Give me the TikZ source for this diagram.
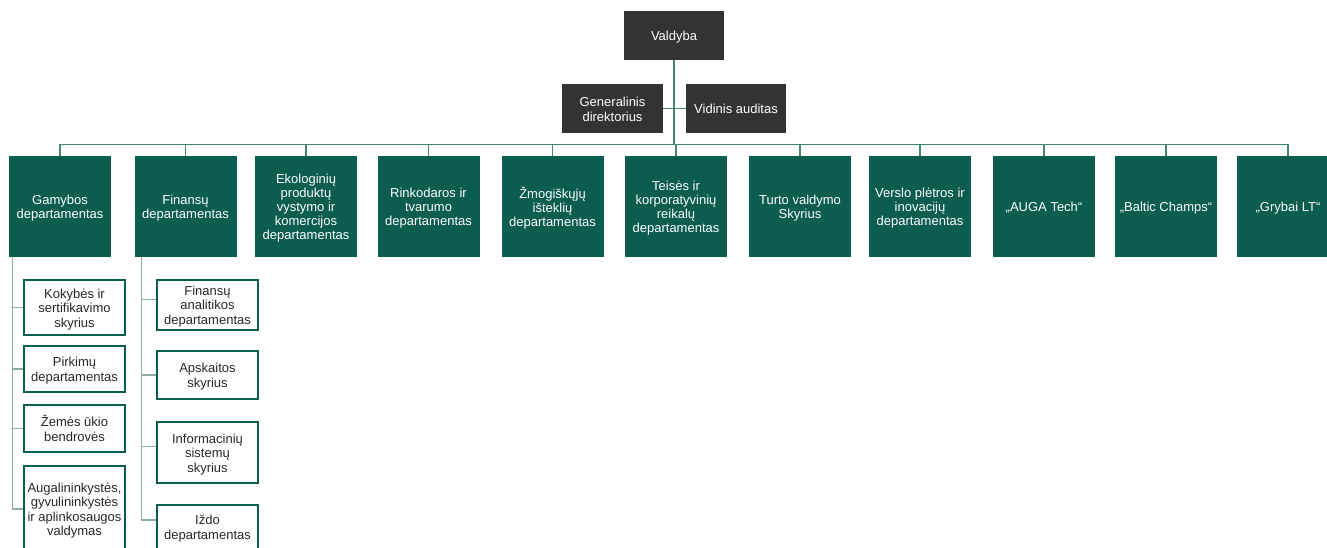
\documentclass[tikz,border=0pt]{standalone}
\usepackage{fontspec}
\setmainfont{Liberation Sans}
\definecolor{dgreen}{RGB}{10,93,79}
\definecolor{dgray}{RGB}{51,51,51}
\definecolor{busc}{RGB}{72,130,116}
\definecolor{subc}{RGB}{143,173,164}
\definecolor{ctext}{RGB}{40,40,40}
\newcommand\mytxt[1]{\raisebox{-2.2pt}[\height][\depth]{\begin{tabular}{@{}c@{}}#1\end{tabular}}}
\begin{document}
\begin{tikzpicture}[x=1pt,y=-1pt,
  gbox/.style={fill=dgray, text=white, minimum width=100pt, minimum height=49pt, inner sep=0pt, font=\fontsize{13}{15}\selectfont},
  tbox/.style={fill=dgreen, text=white, minimum width=102pt, minimum height=101pt, inner sep=0pt, font=\fontsize{13}{14.2}\selectfont},
  cbox/.style={draw=dgreen, line width=2pt, fill=white, text=ctext, minimum width=101pt, inner sep=0pt, font=\fontsize{13}{14.5}\selectfont},
  bus/.style={draw=busc, line width=1.8pt},
  sub/.style={draw=subc, line width=1.5pt}]
\path[use as bounding box] (0,0) rectangle (1327,548);
\clip (0,0) rectangle (1327,548);
\fill[white] (0,0) rectangle (1327,548);

\coordinate (busy) at (0,144.5);
\coordinate (c1) at (12.7,0);
\coordinate (c2) at (141.7,0);

% top gray nodes
\node[gbox] (valdyba) at (674,35.5) {\mytxt{Valdyba}};
\node[gbox, minimum width=101pt] (gen) at (612.5,108.5) {\mytxt{Generalinis\\direktorius}};
\node[gbox] (vid) at (736,108.5) {\mytxt{Vidinis auditas}};

% top row
\node[tbox] (t1) at (60,206.5) {\mytxt{Gamybos\\departamentas}};
\node[tbox] (t2) at (185.5,206.5) {\mytxt{Finansų\\departamentas}};
\node[tbox] (t3) at (306,206.5) {\mytxt{Ekologinių\\produktų\\vystymo ir\\komercijos\\departamentas}};
\node[tbox] (t4) at (428.5,206.5) {\mytxt{Rinkodaros ir\\tvarumo\\departamentas}};
\node[tbox] (t5) at (552.5,206.5) {\mytxt{Žmogiškųjų\\išteklių\\departamentas}};
\node[tbox] (t6) at (676,206.5) {\mytxt{Teisės ir\\korporatyvinių\\reikalų\\departamentas}};
\node[tbox] (t7) at (800,206.5) {\mytxt{Turto valdymo\\Skyrius}};
\node[tbox] (t8) at (920,206.5) {\mytxt{Verslo plėtros ir\\inovacijų\\departamentas}};
\node[tbox] (t9) at (1044,206.5) {\mytxt{„AUGA Tech“}};
\node[tbox] (t10) at (1166,206.5) {\mytxt{„Baltic Champs“}};
\node[tbox] (t11) at (1288,206.5) {\mytxt{„Grybai LT“}};

% children of Gamybos
\node[cbox, minimum height=55pt] (k1) at (74.5,307.5) {\mytxt{Kokybės ir\\sertifikavimo\\skyrius}};
\node[cbox, minimum height=46pt] (k2) at (74.5,369) {\mytxt{Pirkimų\\departamentas}};
\node[cbox, minimum height=47pt] (k3) at (74.5,428.5) {\mytxt{Žemės ūkio\\bendrovės}};
\node[cbox, minimum height=86pt] (k4) at (74.5,509) {\mytxt{Augalininkystės,\\gyvulininkystės\\ir aplinkosaugos\\valdymas}};

% children of Finansu
\node[cbox, minimum height=50pt] (f1) at (207.5,304.5) {\mytxt{Finansų\\analitikos\\departamentas}};
\node[cbox, minimum height=48pt] (f2) at (207.5,375) {\mytxt{Apskaitos\\skyrius}};
\node[cbox, minimum height=61pt] (f3) at (207.5,452.5) {\mytxt{Informacinių\\sistemų\\skyrius}};
\node[cbox, minimum height=45pt] (f4) at (207.5,527) {\mytxt{Iždo\\departamentas}};

% connectors
\draw[bus] (valdyba.south) -- (valdyba.south |- busy);
\draw[bus] (gen.east) -- (vid.west);
\draw[bus] (t1.north |- busy) -- (t11.north |- busy);
\foreach \t in {t1,t2,t3,t4,t5,t6,t7,t8,t9,t10,t11}{
  \draw[bus] (\t.north |- busy) -- (\t.north);
}
\draw[sub] (t1.south -| c1) |- (k1.west);
\draw[sub] (t1.south -| c1) |- (k2.west);
\draw[sub] (t1.south -| c1) |- (k3.west);
\draw[sub] (t1.south -| c1) |- (k4.west);
\draw[sub] (t2.south -| c2) |- ([yshift=5pt]f1.west);
\draw[sub] (t2.south -| c2) |- (f2.west);
\draw[sub] (t2.south -| c2) |- ([yshift=6pt]f3.west);
\draw[sub] (t2.south -| c2) |- ([yshift=7pt]f4.west);
\end{tikzpicture}
\end{document}
